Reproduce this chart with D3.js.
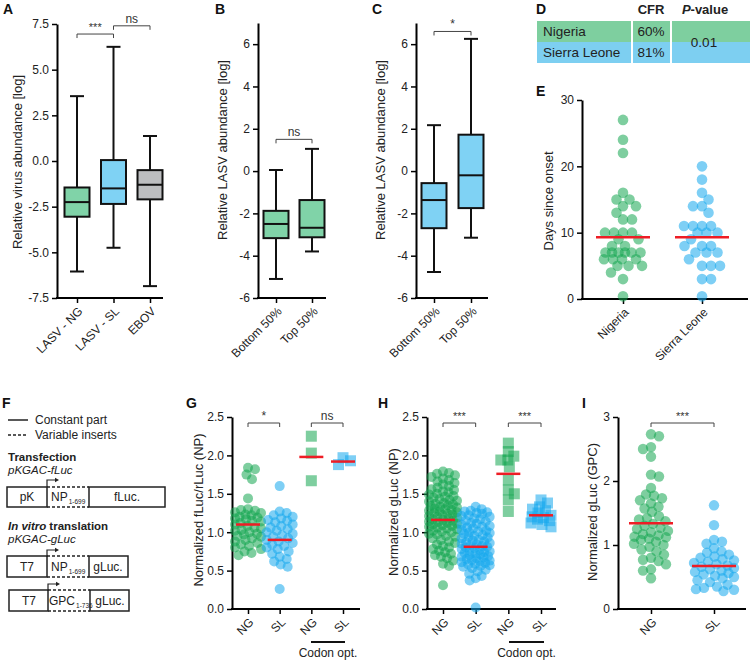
<!DOCTYPE html>
<html><head><meta charset="utf-8">
<script src="https://cdn.jsdelivr.net/npm/d3@7"></script>
<style>body{margin:0;background:#fff;} svg{display:block;}</style>
</head><body><svg id="c" width="750" height="662"></svg>
<script>
// ---------------- DATA ----------------
// Panel A
const catsA = ["LASV - NG", "LASV - SL", "EBOV"];
const minA = [-6.05, -4.75, -6.85];
const q1A  = [-3.05, -2.35, -2.10];
const medA = [-2.25, -1.50, -1.30];
const q3A  = [-1.45,  0.05, -0.50];
const maxA = [ 3.55,  6.25,  1.37];
const ticksA = [-7.5, -5, -2.5, 0, 2.5, 5, 7.5];
// Panel B
const catsB = ["Bottom 50%", "Top 50%"];
const minB = [-5.10, -3.80];
const q1B  = [-3.17, -3.13];
const medB = [-2.50, -2.68];
const q3B  = [-1.88, -1.37];
const maxB = [ 0.05,  1.05];
// Panel C
const catsC = ["Bottom 50%", "Top 50%"];
const minC = [-4.77, -3.15];
const q1C  = [-2.70, -1.75];
const medC = [-1.37, -0.20];
const q3C  = [-0.57,  1.72];
const maxC = [ 2.17,  6.25];
const ticksBC = [-6, -4, -2, 0, 2, 4, 6];
// Panel D
const countriesD = ["Nigeria", "Sierra Leone"];
const cfrD = ["60%", "81%"];
const pValueD = "0.01";
// Panel E
const catsE = ["Nigeria", "Sierra Leone"];
const daysNigeria = [27, 24, 22, 16, 15, 15, 14, 14, 13, 12, 12, 10, 10, 10, 10, 9, 9, 8, 8,
  7, 7, 7, 7, 7, 7, 6, 6, 6, 6, 5, 5, 5, 4, 3, 0.4];
const daysSierraLeone = [20, 18, 16, 15, 14, 14, 13, 11, 11, 11, 11, 10, 10, 10, 9, 8, 8, 8,
  7, 7, 7, 6, 5, 5, 5, 3, 3, 0.4];
const meanE = [9.3, 9.3];
const ticksE = [0, 10, 20, 30];
// Panel G
const keysGH = ["NG", "SL", "NG opt", "SL opt"];
const labelsGH = ["NG", "SL", "NG", "SL"];
const fLucNG = [1.84, 1.82, 1.75, 1.69, 1.44, 1.30, 1.29, 1.28, 1.26, 1.25, 1.23, 1.22, 1.20, 1.19,
  1.18, 1.17, 1.15, 1.14, 1.12, 1.10, 1.08, 1.06, 1.05, 1.03, 1.02, 1.00, 0.98, 0.97, 0.95, 0.94,
  0.92, 0.90, 0.88, 0.86, 0.84, 0.82, 0.80, 0.78, 0.75, 0.73, 0.70];
const fLucSL = [1.60, 1.27, 1.25, 1.22, 1.20, 1.18, 1.16, 1.15, 1.13, 1.10, 1.08, 1.06, 1.04, 1.02,
  1.00, 0.98, 0.96, 0.94, 0.92, 0.90, 0.88, 0.86, 0.84, 0.82, 0.80, 0.78, 0.75, 0.72, 0.68, 0.65,
  0.62, 0.58, 0.55, 0.26];
const fLucNGopt = [2.25, 2.03, 1.67];
const fLucSLopt = [1.97, 1.93, 1.88];
const meanG = [1.10, 0.90, 1.98, 1.92];
const ticksGH = [0, 0.5, 1.0, 1.5, 2.0, 2.5];
// Panel H
const gLucNG = [1.79, 1.77, 1.76, 1.74, 1.72, 1.70, 1.68, 1.66, 1.64, 1.62, 1.60, 1.58, 1.56, 1.55,
  1.53, 1.52, 1.50, 1.49, 1.47, 1.46, 1.45, 1.43, 1.42, 1.41, 1.40, 1.38, 1.37, 1.36, 1.35, 1.34,
  1.33, 1.32, 1.31, 1.30, 1.29, 1.28, 1.27, 1.26, 1.25, 1.24, 1.23, 1.22, 1.21, 1.20, 1.19, 1.18,
  1.17, 1.16, 1.15, 1.14, 1.13, 1.12, 1.11, 1.10, 1.09, 1.08, 1.07, 1.06, 1.05, 1.04, 1.02, 1.01,
  1.00, 0.98, 0.97, 0.95, 0.94, 0.92, 0.90, 0.88, 0.86, 0.84, 0.82, 0.80, 0.78, 0.76, 0.74, 0.72,
  0.70, 0.68, 0.66, 0.63, 0.59, 0.56, 0.31];
const gLucSL = [1.33, 1.30, 1.28, 1.27, 1.26, 1.25, 1.24, 1.22, 1.21, 1.20, 1.18, 1.17, 1.15, 1.14,
  1.12, 1.11, 1.10, 1.08, 1.07, 1.06, 1.05, 1.03, 1.02, 1.01, 1.00, 0.99, 0.98, 0.96, 0.95, 0.94,
  0.93, 0.92, 0.90, 0.89, 0.88, 0.87, 0.86, 0.85, 0.84, 0.83, 0.82, 0.81, 0.80, 0.79, 0.78, 0.77,
  0.76, 0.75, 0.74, 0.73, 0.72, 0.71, 0.70, 0.69, 0.68, 0.67, 0.66, 0.65, 0.64, 0.63, 0.62, 0.61,
  0.60, 0.59, 0.58, 0.57, 0.56, 0.55, 0.53, 0.51, 0.49, 0.46, 0.43, 0.40, 0.37, 0.02];
const gLucNGopt = [2.16, 2.05, 1.99, 1.94, 1.94, 1.85, 1.68, 1.55, 1.50, 1.42, 1.27];
const gLucSLopt = [1.42, 1.38, 1.33, 1.30, 1.28, 1.25, 1.22, 1.20, 1.19, 1.17, 1.15, 1.12, 1.10, 1.07];
const meanH = [1.16, 0.81, 1.76, 1.22];
// Panel I
const catsI = ["NG", "SL"];
const gpcNG = [2.73, 2.70, 2.53, 2.50, 2.38, 2.10, 2.07, 1.89, 1.79, 1.77, 1.73, 1.70, 1.65, 1.60,
  1.57, 1.52, 1.45, 1.42, 1.40, 1.37, 1.33, 1.30, 1.27, 1.25, 1.22, 1.20, 1.17, 1.15, 1.13, 1.12,
  1.10, 1.08, 1.05, 1.02, 1.00, 0.97, 0.93, 0.90, 0.85, 0.80, 0.77, 0.75, 0.70, 0.62, 0.60, 0.48];
const gpcSL = [1.62, 1.31, 1.08, 1.05, 1.02, 0.95, 0.90, 0.88, 0.85, 0.82, 0.80, 0.78, 0.76, 0.74,
  0.72, 0.70, 0.68, 0.66, 0.64, 0.62, 0.60, 0.58, 0.56, 0.54, 0.52, 0.50, 0.48, 0.45, 0.42, 0.38,
  0.35, 0.33, 0.31, 0.30, 0.28];
const meanI = [1.34, 0.67];
const ticksI = [0, 1, 2, 3];

// ---------------- STYLE ----------------
const FONT = "'Liberation Sans', Arial, Helvetica, sans-serif";
const GREEN_BOX = "#80d3a8", BLUE_BOX = "#7fd2f4", GRAY_BOX = "#bdbec0";
const DOT_GREEN = "#14a650", DOT_BLUE = "#14a7ec";
const TABLE_GREEN = "#7ecf9f", TABLE_BLUE = "#7dcff1";
const RED = "#ee1d25";
const DOT_OP = 0.55;

const svg = d3.select("#c").attr("font-family", FONT);
svg.append("rect").attr("width", 750).attr("height", 662).attr("fill", "#fff");

function panelLabel(t, x, y) {
  svg.append("text").attr("x", x).attr("y", y).attr("font-size", 14).attr("font-weight", "bold")
    .attr("fill", "#111").text(t);
}
function yLabel(t, x, y) {
  svg.append("text").attr("transform", `translate(${x},${y}) rotate(-90)`).attr("text-anchor", "middle")
    .attr("dy", "0.35em").attr("font-size", 13).attr("fill", "#222").text(t);
}
function yAxis(y, x, ticks, fmt) {
  const ax = svg.append("g").attr("transform", `translate(${x},0)`)
    .call(d3.axisLeft(y).tickValues(ticks).tickFormat(fmt).tickSize(5).tickSizeOuter(0).tickPadding(3));
  ax.attr("font-family", FONT).attr("font-size", 12);
  ax.select(".domain").attr("stroke", "#000").attr("stroke-width", 2);
  ax.selectAll(".tick line").attr("stroke", "#000").attr("stroke-width", 1.5);
  ax.selectAll(".tick text").attr("fill", "#222");
}
function xAxis(x, yPos, x0, x1, labels) {
  svg.append("line").attr("x1", x0 - 1).attr("x2", x1).attr("y1", yPos).attr("y2", yPos)
    .attr("stroke", "#000").attr("stroke-width", 2);
  const ax = svg.append("g").attr("transform", `translate(0,${yPos})`)
    .call(d3.axisBottom(x).tickSize(5).tickSizeOuter(0).tickFormat((d, i) => labels[i]));
  ax.attr("font-family", FONT).attr("font-size", 12);
  ax.select(".domain").remove();
  ax.selectAll(".tick line").attr("stroke", "#000").attr("stroke-width", 1.5);
  ax.selectAll(".tick text").attr("fill", "#222").attr("x", 0).attr("y", 0).attr("dy", "0.35em")
    .attr("text-anchor", "end").attr("transform", "translate(3,11) rotate(-45)");
}
function boxes(x, y, cats, mn, q1, md, q3, mx, colors) {
  const w = 25, cap = 14;
  const g = svg.append("g").attr("stroke", "#111").attr("stroke-width", 2);
  cats.forEach((c, i) => {
    const cx = x(c);
    g.append("line").attr("x1", cx).attr("x2", cx).attr("y1", y(mn[i])).attr("y2", y(mx[i]));
    g.append("line").attr("x1", cx - cap / 2).attr("x2", cx + cap / 2).attr("y1", y(mn[i])).attr("y2", y(mn[i]));
    g.append("line").attr("x1", cx - cap / 2).attr("x2", cx + cap / 2).attr("y1", y(mx[i])).attr("y2", y(mx[i]));
    g.append("rect").attr("x", cx - w / 2).attr("y", y(q3[i])).attr("width", w)
      .attr("height", y(q1[i]) - y(q3[i])).attr("fill", colors[i]);
    g.append("line").attr("x1", cx - w / 2).attr("x2", cx + w / 2).attr("y1", y(md[i])).attr("y2", y(md[i]));
  });
}
function bracket(x1, x2, yPos, label, fs) {
  const g = svg.append("g").attr("stroke", "#444").attr("stroke-width", 1).attr("fill", "none");
  g.append("path").attr("d", `M${x1},${yPos + 4}V${yPos}H${x2}V${yPos + 4}`);
  svg.append("text").attr("x", (x1 + x2) / 2).attr("y", yPos - 3).attr("text-anchor", "middle")
    .attr("font-size", fs || 12).attr("fill", "#333").text(label);
}
// beeswarm layout: choose the horizontal offset with least crowding
function swarm(vals, y, maxOff, minDist) {
  const pts = vals.map(v => ({ v, py: y(v) })).sort((a, b) => a.py - b.py);
  const placed = [];
  let flip = 1;
  pts.forEach(p => {
    let best = 0, bestCost = Infinity;
    for (let o = -maxOff; o <= maxOff + 1e-9; o += 0.5) {
      let cost = 0;
      for (const q of placed) {
        const dy = p.py - q.py;
        if (Math.abs(dy) >= minDist) continue;
        const d = Math.hypot(o - q.dx, dy);
        if (d < minDist) cost += (minDist - d) * (minDist - d);
      }
      const better = cost < bestCost - 1e-6 ||
        (Math.abs(cost - bestCost) <= 1e-6 && (Math.abs(o) < Math.abs(best) ||
          (Math.abs(o) === Math.abs(best) && o * flip > 0)));
      if (better) { bestCost = cost; best = o; }
    }
    if (best !== 0) flip = -flip;
    p.dx = best;
    placed.push(p);
  });
  return pts;
}
function dots(vals, cx, y, color, r, maxOff, minDist) {
  const pts = swarm(vals, y, maxOff, minDist);
  svg.append("g").selectAll("circle").data(pts).join("circle")
    .attr("cx", d => cx + d.dx).attr("cy", d => d.py).attr("r", r)
    .attr("fill", color).attr("fill-opacity", DOT_OP);
}
function squares(vals, cx, y, color, s, maxOff, minDist) {
  const pts = swarm(vals, y, maxOff, minDist);
  svg.append("g").selectAll("rect").data(pts).join("rect")
    .attr("x", d => cx + d.dx - s / 2).attr("y", d => d.py - s / 2).attr("width", s).attr("height", s)
    .attr("fill", color).attr("fill-opacity", DOT_OP);
}
function meanLine(cx, yv, half) {
  svg.append("line").attr("x1", cx - half).attr("x2", cx + half).attr("y1", yv).attr("y2", yv)
    .attr("stroke", RED).attr("stroke-width", 2.5);
}
const fmt1 = d => d.toFixed(1);
const fmt0 = d => String(d);

// ---------------- PANEL A ----------------
{
  const y = d3.scaleLinear([-7.5, 7.5], [298, 24]);
  const x = d3.scalePoint(catsA, [77, 150]);
  panelLabel("A", 3, 14);
  yAxis(y, 57, ticksA, fmt1);
  xAxis(x, 298, 57, 163, catsA);
  boxes(x, y, catsA, minA, q1A, medA, q3A, maxA, [GREEN_BOX, BLUE_BOX, GRAY_BOX]);
  bracket(x(catsA[0]), x(catsA[1]), y(6.95), "***", 11);
  bracket(x(catsA[1]), x(catsA[2]), y(7.4), "ns", 12);
  yLabel("Relative virus abundance [log]", 17, 162);
}
// ---------------- PANEL B ----------------
{
  const y = d3.scaleLinear([-6, 7], [298, 23]);
  const x = d3.scalePoint(catsB, [276, 312]);
  panelLabel("B", 215, 14);
  yAxis(y, 258, ticksBC, fmt0);
  xAxis(x, 298, 258, 326, catsB);
  boxes(x, y, catsB, minB, q1B, medB, q3B, maxB, [GREEN_BOX, GREEN_BOX]);
  bracket(x(catsB[0]), x(catsB[1]), y(1.5), "ns", 12);
  yLabel("Relative LASV abundance [log]", 222, 150);
}
// ---------------- PANEL C ----------------
{
  const y = d3.scaleLinear([-6, 7], [298, 23]);
  const x = d3.scalePoint(catsC, [434, 471]);
  panelLabel("C", 372, 14);
  yAxis(y, 416, ticksBC, fmt0);
  xAxis(x, 298, 416, 488, catsC);
  boxes(x, y, catsC, minC, q1C, medC, q3C, maxC, [BLUE_BOX, BLUE_BOX]);
  bracket(x(catsC[0]), x(catsC[1]), y(6.6), "*", 12);
  yLabel("Relative LASV abundance [log]", 380, 150);
}
// ---------------- PANEL D ----------------
{
  panelLabel("D", 536, 14);
  const rows = [21, 42], rh = 21;
  const cols = [[537, 94], [633, 37], [672, 78]];
  const fills = [TABLE_GREEN, TABLE_BLUE];
  rows.forEach((ry, i) => cols.forEach(c => svg.append("rect").attr("x", c[0]).attr("y", ry)
    .attr("width", c[1]).attr("height", rh).attr("fill", fills[i])));
  svg.append("text").attr("x", 651).attr("y", 14).attr("text-anchor", "middle").attr("font-size", 13)
    .attr("font-weight", "bold").attr("fill", "#222").text("CFR");
  const pv = svg.append("text").attr("x", 705).attr("y", 14).attr("text-anchor", "middle")
    .attr("font-size", 13).attr("font-weight", "bold").attr("fill", "#222");
  pv.append("tspan").attr("font-style", "italic").text("P");
  pv.append("tspan").text("-value");
  countriesD.forEach((t, i) => {
    svg.append("text").attr("x", 543).attr("y", rows[i] + 15).attr("font-size", 13.5).attr("fill", "#222").text(t);
    svg.append("text").attr("x", 651).attr("y", rows[i] + 15).attr("text-anchor", "middle")
      .attr("font-size", 13.5).attr("fill", "#222").text(cfrD[i]);
  });
  svg.append("text").attr("x", 704).attr("y", 47).attr("text-anchor", "middle").attr("font-size", 13.5)
    .attr("fill", "#222").text(pValueD);
}
// ---------------- PANEL E ----------------
{
  const y = d3.scaleLinear([0, 30], [299, 100]);
  const x = d3.scalePoint(catsE, [623, 702]);
  panelLabel("E", 536, 96);
  yAxis(y, 582, ticksE, fmt0);
  xAxis(x, 299, 582, 748, catsE);
  dots(daysNigeria, x(catsE[0]), y, DOT_GREEN, 5.3, 19, 9);
  dots(daysSierraLeone, x(catsE[1]), y, DOT_BLUE, 5.3, 19, 9);
  meanLine(x(catsE[0]), y(meanE[0]), 27);
  meanLine(x(catsE[1]), y(meanE[1]), 27);
  yLabel("Days since onset", 548, 201);
}
// ---------------- PANEL F ----------------
{
  panelLabel("F", 2, 408);
  const g = svg.append("g");
  const solid = (x1, y1, x2, y2) => g.append("line").attr("x1", x1).attr("y1", y1).attr("x2", x2).attr("y2", y2)
    .attr("stroke", "#222").attr("stroke-width", 1.5);
  const dashed = (x1, y1, x2, y2) => solid(x1, y1, x2, y2).attr("stroke-dasharray", "3,2");
  const txt = (t, x, y, opts) => {
    const e = g.append("text").attr("x", x).attr("y", y).attr("font-size", (opts && opts.fs) || 12).attr("fill", "#222");
    if (opts && opts.anchor) e.attr("text-anchor", opts.anchor);
    if (opts && opts.bold) e.attr("font-weight", "bold");
    if (opts && opts.italic) e.attr("font-style", "italic");
    return e.text(t);
  };
  solid(8, 420, 28, 420); txt("Constant part", 35, 424);
  dashed(8, 435, 28, 435); txt("Variable inserts", 35, 439);
  txt("Transfection", 8, 461, { bold: true, fs: 11.5 });
  txt("pKGAC-fLuc", 8, 474, { italic: true, fs: 11.5 });
  const iv = txt("In vitro", 8, 530, { bold: true, italic: true, fs: 11.5 });
  const ivw = iv.node().getComputedTextLength();
  txt("translation", 8 + ivw + 3, 530, { bold: true, fs: 11.5 });
  txt("pKGAC-gLuc", 8, 543, { italic: true, fs: 11.5 });

  const box = (x1, x2, y1, y2) => g.append("rect").attr("x", x1).attr("y", y1).attr("width", x2 - x1)
    .attr("height", y2 - y1).attr("fill", "none").attr("stroke", "#222").attr("stroke-width", 1.5);
  const insert = (x1, x2, y1, y2) => { dashed(x1, y1, x2, y1); dashed(x1, y2, x2, y2); };
  const arrow = (x, yTop) => {
    g.append("path").attr("d", `M${x},${yTop + 7}V${yTop}H${x + 9}`).attr("fill", "none")
      .attr("stroke", "#222").attr("stroke-width", 1.2);
    g.append("path").attr("d", `M${x + 12},${yTop}L${x + 8},${yTop - 2.2}L${x + 8},${yTop + 2.2}Z`).attr("fill", "#222");
  };
  const sub = (main, s, x, y) => {
    const e = g.append("text").attr("x", x).attr("y", y).attr("font-size", 12).attr("fill", "#222");
    e.append("tspan").text(main);
    e.append("tspan").attr("font-size", 6.5).attr("dy", 3).attr("dx", 1).text(s);
  };
  // row 1
  box(7, 47, 487, 507); insert(47, 89, 487, 507); box(89, 165, 487, 507);
  txt("pK", 27, 501, { anchor: "middle" }); sub("NP", "1-699", 51, 501); txt("fLuc.", 127, 501, { anchor: "middle" });
  arrow(47, 480);
  // row 2
  box(7, 47, 556, 577); insert(47, 89, 556, 577); box(89, 128, 556, 577);
  txt("T7", 27, 571, { anchor: "middle" }); sub("NP", "1-699", 51, 571); txt("gLuc.", 108, 571, { anchor: "middle" });
  arrow(47, 550);
  // row 3
  box(9, 48, 590, 611); insert(48, 90, 590, 611); box(90, 129, 590, 611);
  txt("T7", 29, 605, { anchor: "middle" }); sub("GPC", "1-736", 49, 605); txt("gLuc.", 110, 605, { anchor: "middle" });
  arrow(48, 584);
}
// ---------------- PANEL G ----------------
function codon(x1, x2) {
  svg.append("line").attr("x1", x1).attr("x2", x2).attr("y1", 642).attr("y2", 642).attr("stroke", "#111").attr("stroke-width", 2);
  svg.append("text").attr("x", (x1 + x2) / 2).attr("y", 657).attr("text-anchor", "middle")
    .attr("font-size", 12).attr("fill", "#222").text("Codon opt.");
}
{
  const y = d3.scaleLinear([0, 2.5], [609, 417]);
  const x = d3.scalePoint(keysGH, [248, 343]);
  panelLabel("G", 186, 408);
  yAxis(y, 232, ticksGH, fmt1);
  xAxis(x, 609, 232, 360, labelsGH);
  dots(fLucNG, x("NG"), y, DOT_GREEN, 5, 13, 7);
  dots(fLucSL, x("SL"), y, DOT_BLUE, 5, 13, 7);
  squares(fLucNGopt, x("NG opt"), y, DOT_GREEN, 11, 8, 8);
  squares(fLucSLopt, x("SL opt"), y, DOT_BLUE, 11, 8, 8);
  keysGH.forEach((k, i) => meanLine(x(k), y(meanG[i]), 12));
  bracket(x("NG"), x("SL"), 423, "*", 12);
  bracket(x("NG opt"), x("SL opt"), 423, "ns", 12);
  codon(311, 345);
  yLabel("Normalized fLuc/rLuc (NP)", 198, 510);
}
// ---------------- PANEL H ----------------
{
  const y = d3.scaleLinear([0, 2.5], [609, 417]);
  const x = d3.scalePoint(keysGH, [443, 541]);
  panelLabel("H", 378, 408);
  yAxis(y, 427, ticksGH, fmt1);
  xAxis(x, 609, 427, 556, labelsGH);
  dots(gLucNG, x("NG"), y, DOT_GREEN, 5, 14, 6);
  dots(gLucSL, x("SL"), y, DOT_BLUE, 5, 14, 6);
  squares(gLucNGopt, x("NG opt"), y, DOT_GREEN, 11, 9, 7);
  squares(gLucSLopt, x("SL opt"), y, DOT_BLUE, 11, 10, 7);
  keysGH.forEach((k, i) => meanLine(x(k), y(meanH[i]), 12));
  bracket(x("NG"), x("SL"), 423, "***", 11);
  bracket(x("NG opt"), x("SL opt"), 423, "***", 11);
  codon(509, 544);
  yLabel("Normalized gLuc (NP)", 393, 512);
}
// ---------------- PANEL I ----------------
{
  const y = d3.scaleLinear([0, 3], [609, 417]);
  const x = d3.scalePoint(catsI, [651, 714]);
  panelLabel("I", 582, 408);
  yAxis(y, 618, ticksI, fmt0);
  xAxis(x, 609, 618, 746, catsI);
  dots(gpcNG, x("NG"), y, DOT_GREEN, 5.2, 17, 8);
  dots(gpcSL, x("SL"), y, DOT_BLUE, 5.2, 20, 8);
  meanLine(x("NG"), y(meanI[0]), 22);
  meanLine(x("SL"), y(meanI[1]), 22);
  bracket(x("NG"), x("SL"), 423, "***", 11);
  yLabel("Normalized gLuc (GPC)", 592, 512);
}
</script></body></html>
